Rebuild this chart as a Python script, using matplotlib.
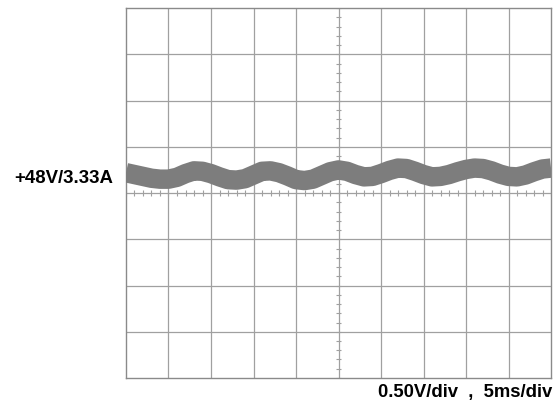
import numpy as np
import matplotlib.pyplot as plt

# scope settings
volts_per_div = 0.50
ms_per_div = 5
n_xdiv = 10
n_ydiv = 8

# trace centre (time in ms, level in divisions from centre line)
t_ms = list(range(0, 51))
level_div = [0.44, 0.40, 0.36, 0.32, 0.30, 0.30, 0.34, 0.42, 0.48, 0.47,
             0.42, 0.35, 0.29, 0.28, 0.31, 0.39, 0.47, 0.48, 0.44, 0.37,
             0.29, 0.27, 0.30, 0.38, 0.46, 0.50, 0.47, 0.40, 0.35, 0.36,
             0.42, 0.49, 0.54, 0.53, 0.47, 0.40, 0.35, 0.36, 0.40, 0.46,
             0.51, 0.54, 0.53, 0.48, 0.41, 0.36, 0.35, 0.39, 0.46, 0.52,
             0.54]

trace_label = "+48V/3.33A"
scale_label = "0.50V/div  ,  5ms/div"

fig = plt.figure(figsize=(5.58, 4.05), dpi=100)
ax = fig.add_axes([0.2258, 0.0667, 0.7617, 0.9133])

xmax = n_xdiv * ms_per_div
ymax = n_ydiv / 2
ax.set_xlim(0, xmax)
ax.set_ylim(-ymax, ymax)

gc = "#a0a0a0"
# graticule
for i in range(1, n_xdiv):
    ax.axvline(i * ms_per_div, color=gc, lw=0.9, zorder=1)
for j in range(1, n_ydiv):
    ax.axhline(j - ymax, color=gc, lw=0.9, zorder=1)

# small ticks on the centre lines
xt = np.arange(0, xmax + 0.01, ms_per_div / 5)
ax.vlines(xt, -0.06, 0.06, color=gc, lw=0.8, zorder=1)
yt = np.arange(-ymax, ymax + 0.01, 0.2)
ax.hlines(yt, xmax / 2 - 0.35, xmax / 2 + 0.35, color=gc, lw=0.8, zorder=1)

for s in ax.spines.values():
    s.set_color("#8a8a8a")
    s.set_linewidth(1.0)
ax.set_xticks([])
ax.set_yticks([])

# the trace, a thick noisy band
ax.plot(t_ms, level_div, color="#7d7d7d", lw=14, solid_capstyle="butt",
        solid_joinstyle="round", zorder=3)

fig.text(0.025, 1 - 178 / 405, trace_label, fontsize=13.4, fontweight="bold",
         family="Liberation Sans", va="center", ha="left")
fig.text(0.99, 1 - 393 / 405, scale_label, fontsize=13.3, fontweight="bold",
         family="Liberation Sans", va="center", ha="right")

plt.savefig("out.png", dpi=100)
